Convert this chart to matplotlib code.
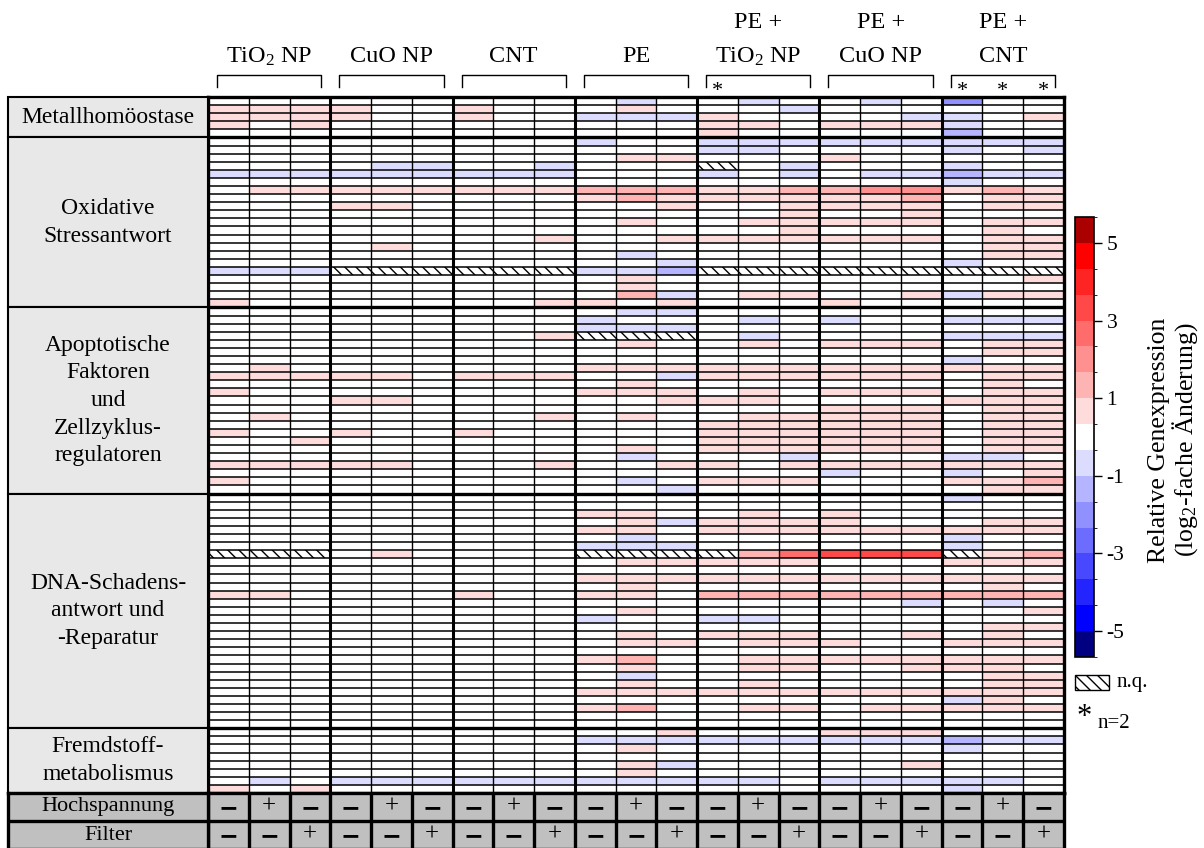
import numpy as np
import matplotlib
matplotlib.use('Agg')
import matplotlib.pyplot as plt
from matplotlib.colors import ListedColormap, BoundaryNorm
from matplotlib.patches import Rectangle
import matplotlib.cm as cm

plt.rcParams['font.family'] = ['Liberation Serif', 'DejaVu Serif']
plt.rcParams['mathtext.fontset'] = 'custom'
plt.rcParams['mathtext.rm'] = 'Liberation Serif'
plt.rcParams['mathtext.it'] = 'Liberation Serif:italic'
plt.rcParams['hatch.linewidth'] = 1.0

n = np.nan

# ---------------- data ----------------
group_top = ['', '', '', '', 'PE +', 'PE +', 'PE +']
group_bottom = ['TiO$_2$ NP', 'CuO NP', 'CNT', 'PE', 'TiO$_2$ NP', 'CuO NP', 'CNT']
n2_columns = [12, 18, 19, 20]          # columns marked with * (n=2)

section_names = ['Metallhomöostase',
                 'Oxidative\nStressantwort',
                 'Apoptotische\nFaktoren\nund\nZellzyklus-\nregulatoren',
                 'DNA-Schadens-\nantwort und\n-Reparatur',
                 'Fremdstoff-\nmetabolismus']

hochspannung = ['−', '+', '−'] * 7
filter_row = ['−', '−', '+'] * 7

metall = [
    [0,0,0, 0,0,0, 0,0,0, 0,-.7,0, 0,-.7,0, 0,-.7,0, -2.0,0,0],
    [.7,.7,.7, .7,0,0, .7,0,0, 0,.7,0, 0,0,-.7, 0,0,0, 0,0,0],
    [.7,.7,.7, .7,0,0, .7,0,0, -.7,-.7,-.7, .7,0,0, 0,0,-.7, -.7,0,.7],
    [.7,0,.7, 0,0,0, 0,0,0, 0,0,0, .7,.7,0, .7,.7,.7, -.7,0,0],
    [0,0,0, 0,0,0, 0,0,0, 0,0,0, .7,0,0, 0,0,0, -1.5,0,0],
]

oxid = [
    [0,0,0, 0,0,0, 0,0,0, -.7,0,0, -.7,-.7,-.7, -.7,-.7,-.7, -.7,-.7,-.7],
    [0,0,0, 0,0,0, 0,0,0, 0,0,0, -.7,-.7,0, 0,0,0, -.7,0,-.7],
    [0,0,0, 0,0,0, 0,0,0, 0,.7,.7, 0,0,0, .7,0,0, 0,0,0],
    [0,0,0, 0,-.7,-.7, 0,0,-.7, 0,0,0, n,0,-.7, 0,0,0, -.7,0,0],
    [-.7,-.7,-.7, -.7,-.7,-.7, -.7,-.7,-.7, 0,0,0, -.7,0,-.7, 0,-.7,-.7, -1.5,-.7,-.7],
    [0,0,0, 0,0,0, 0,0,0, 0,0,0, 0,0,0, 0,0,0, -.7,0,0],
    [0,.7,.7, .7,.7,.7, .7,.7,.7, 1.3,1.3,1.3, .7,.7,1.3, 1.3,2.0,2.0, .7,1.3,.7],
    [0,0,0, 0,0,0, 0,0,0, .7,1.3,.7, .7,.7,.7, .7,.7,1.3, 0,.7,.7],
    [0,0,0, .7,.7,0, 0,0,0, 0,0,.7, 0,0,.7, .7,.7,.7, 0,.7,.7],
    [0,0,0, 0,0,0, 0,0,0, 0,0,0, 0,0,.7, 0,0,.7, 0,0,0],
    [0,0,0, 0,0,0, 0,0,0, 0,.7,0, 0,.7,.7, .7,.7,.7, 0,.7,.7],
    [0,0,0, 0,0,0, 0,0,0, 0,0,0, 0,0,.7, 0,0,0, 0,.7,0],
    [0,0,0, 0,0,0, 0,0,.7, 0,0,.7, .7,.7,.7, .7,.7,.7, 0,.7,.7],
    [0,0,0, 0,.7,0, 0,0,0, 0,0,0, 0,0,0, 0,0,0, 0,.7,.7],
    [0,0,0, 0,0,0, 0,0,0, 0,-.7,0, 0,0,0, 0,0,0, 0,.7,.7],
    [0,0,0, 0,0,0, 0,0,0, 0,0,-.7, 0,0,0, 0,0,0, -.7,0,0],
    [-.7,-.7,-.7, n,n,n, n,n,n, -.7,-.7,-1.3, n,n,n, n,n,n, n,n,n],
    [0,0,0, 0,0,0, 0,0,0, 0,.7,0, 0,0,0, 0,0,0, 0,0,.7],
    [0,0,0, 0,0,0, 0,0,0, 0,.7,0, 0,0,0, 0,0,0, 0,0,0],
    [0,0,0, 0,0,0, 0,0,0, 0,1.3,-.7, 0,.7,.7, 0,0,.7, -.7,.7,.7],
    [.7,0,0, 0,0,0, 0,0,.7, .7,0,.7, 0,0,0, .7,0,0, 0,0,0],
]

apopt = [
    [0,0,0, 0,0,0, 0,0,0, 0,-.7,-.7, 0,0,0, 0,0,0, 0,0,0],
    [0,0,0, 0,0,0, 0,0,0, -.7,0,0, 0,-.7,0, -.7,0,0, -.7,-.7,-.7],
    [0,0,0, 0,0,0, 0,0,0, -.7,-.7,-.7, 0,0,0, 0,0,0, 0,0,0],
    [0,0,0, 0,0,0, 0,0,.7, n,n,n, 0,-.7,0, 0,0,0, -.7,-.7,-.7],
    [0,0,0, 0,0,0, 0,0,0, 0,.7,0, 0,.7,0, .7,.7,.7, 0,.7,.7],
    [0,0,0, 0,0,0, 0,0,0, 0,0,0, 0,0,0, 0,0,0, 0,.7,.7],
    [0,0,0, 0,0,0, 0,0,0, 0,0,0, 0,0,0, 0,0,0, -.7,0,0],
    [0,.7,0, 0,0,0, 0,0,0, .7,.7,.7, .7,.7,.7, .7,.7,.7, .7,.7,.7],
    [.7,.7,.7, .7,.7,0, .7,.7,.7, 0,0,-.7, .7,.7,.7, .7,.7,.7, 0,.7,.7],
    [0,0,0, 0,0,0, 0,0,0, 0,.7,0, 0,0,0, 0,0,0, 0,.7,0],
    [.7,0,0, 0,0,0, 0,0,0, .7,.7,.7, 0,.7,0, .7,.7,.7, 0,.7,.7],
    [0,0,0, .7,.7,0, 0,0,0, 0,0,.7, .7,.7,0, 0,0,0, .7,.7,.7],
    [0,0,0, 0,0,0, 0,0,0, 0,0,0, 0,0,0, .7,.7,.7, 0,.7,.7],
    [0,.7,0, 0,0,0, 0,0,.7, 0,.7,0, 0,.7,.7, .7,.7,.7, 0,.7,.7],
    [0,0,0, 0,0,0, 0,0,0, 0,0,0, .7,.7,.7, .7,.7,.7, 0,.7,.7],
    [.7,0,0, .7,0,0, .7,0,0, 0,0,0, .7,.7,.7, .7,.7,.7, 0,.7,.7],
    [0,0,.7, 0,0,0, 0,0,0, 0,0,0, .7,.7,.7, .7,.7,.7, 0,.7,.7],
    [0,0,0, 0,0,0, 0,0,0, 0,.7,0, .7,.7,.7, .7,.7,.7, 0,.7,.7],
    [0,0,0, 0,0,0, 0,0,0, 0,-.7,0, 0,0,-.7, 0,0,0, -.7,-.7,0],
    [.7,.7,.7, .7,.7,0, 0,0,.7, 0,0,.7, .7,0,.7, .7,.7,.7, .7,.7,.7],
    [0,0,0, 0,0,0, 0,0,0, 0,0,0, 0,0,0, -.7,0,0, -.7,0,.7],
    [.7,0,0, 0,0,0, 0,0,0, 0,-.7,0, .7,.7,.7, 0,0,0, .7,.7,1.3],
    [0,0,0, 0,0,0, 0,0,0, 0,0,-.7, 0,0,0, 0,0,0, 0,.7,.7],
]

dna = [
    [0,0,0, 0,0,0, 0,0,0, 0,0,0, 0,0,0, 0,0,0, -.7,0,0],
    [0,0,0, 0,0,0, 0,0,0, 0,0,0, 0,0,0, 0,0,0, 0,0,0],
    [0,0,0, 0,0,0, 0,0,0, .7,.7,0, 0,.7,0, .7,0,0, 0,0,0],
    [0,0,0, 0,0,0, 0,0,0, 0,.7,-.7, .7,.7,.7, .7,0,0, 0,.7,.7],
    [0,0,0, 0,0,0, 0,0,0, .7,.7,0, .7,.7,.7, .7,.7,.7, .7,.7,.7],
    [0,0,0, 0,0,0, 0,0,0, 0,-.7,0, 0,0,0, 0,0,0, -.7,0,0],
    [0,0,0, 0,0,0, 0,0,0, -.7,-.7,-.7, 0,0,0, 0,0,0, -.7,0,0],
    [n,n,n, 0,.7,0, 0,0,0, n,n,n, n,1.5,2.7, 3.3,3.3,3.3, n,.7,1.3],
    [0,0,0, 0,0,0, 0,0,0, 0,.7,.7, .7,.7,.7, 0,0,0, .7,.7,.7],
    [0,0,0, 0,0,0, 0,0,0, 0,0,0, 0,0,0, 0,0,0, 0,0,0],
    [0,0,0, 0,0,0, 0,0,0, .7,.7,.7, .7,.7,.7, .7,.7,.7, .7,.7,.7],
    [0,0,0, 0,0,0, 0,0,0, 0,.7,0, 0,0,0, 0,0,0, 0,.7,0],
    [.7,.7,0, 0,0,0, .7,0,0, .7,.7,0, 1.3,1.3,1.3, 1.3,1.3,1.3, 1.3,1.3,1.3],
    [0,0,0, 0,0,0, 0,0,0, 0,0,0, 0,0,0, 0,0,-.7, 0,-.7,0],
    [0,0,0, 0,0,0, 0,0,0, 0,.7,0, 0,0,0, 0,0,0, 0,0,.7],
    [0,0,0, 0,0,0, 0,0,0, -.7,0,0, -.7,-.7,0, 0,0,0, 0,0,0],
    [0,0,0, 0,0,0, 0,0,0, 0,0,0, 0,0,0, 0,0,0, 0,.7,.7],
    [0,0,0, 0,0,0, 0,0,0, 0,.7,0, .7,.7,.7, 0,0,.7, 0,.7,0],
    [0,0,0, 0,0,0, 0,0,0, 0,.7,.7, 0,.7,.7, .7,0,0, .7,.7,.7],
    [0,0,0, 0,0,0, 0,0,0, 0,0,0, 0,0,0, 0,0,0, 0,0,0],
    [0,0,0, 0,0,0, 0,0,0, .7,1.3,0, 0,.7,.7, .7,.7,.7, .7,.7,.7],
    [0,0,0, 0,0,0, 0,0,0, 0,.7,0, 0,.7,.7, 0,0,.7, .7,.7,0],
    [0,0,0, 0,0,0, 0,0,0, 0,-.7,0, 0,0,0, 0,0,0, 0,.7,.7],
    [0,0,0, 0,0,0, 0,0,0, 0,.7,0, 0,.7,0, 0,0,0, 0,.7,.7],
    [0,0,0, 0,0,0, 0,0,0, .7,.7,.7, .7,.7,.7, .7,.7,.7, .7,.7,.7],
    [0,0,0, 0,0,0, 0,0,0, 0,0,0, 0,0,0, 0,0,0, -.7,.7,0],
    [0,0,0, 0,0,0, 0,0,0, .7,1.3,0, 0,.7,.7, 0,.7,.7, .7,.7,.7],
    [0,0,0, 0,0,0, 0,0,0, 0,0,0, 0,0,0, 0,0,0, 0,0,0],
    [0,0,0, 0,0,0, 0,0,0, 0,0,0, 0,0,0, 0,0,0, 0,0,0],
]

fremd = [
    [0,0,0, 0,0,0, 0,0,0, 0,0,.7, 0,0,0, .7,.7,.7, 0,0,0],
    [0,0,0, 0,0,0, 0,0,0, -.7,-.7,-.7, -.7,-.7,-.7, -.7,-.7,-.7, -1.5,-.7,-.7],
    [0,0,0, 0,0,0, 0,0,0, 0,.7,0, 0,0,0, 0,0,0, -.7,0,0],
    [0,0,0, 0,0,0, 0,0,0, 0,0,0, 0,0,0, 0,0,0, 0,0,0],
    [0,0,0, 0,0,0, 0,0,0, 0,.7,-.7, 0,0,0, 0,0,.7, 0,0,0],
    [0,0,0, 0,0,0, 0,0,0, 0,.7,0, 0,0,0, 0,0,0, 0,0,0],
    [0,-.7,0, -.7,-.7,-.7, -.7,-.7,-.7, -.7,-.7,-.7, -.7,-.7,0, -.7,-.7,-.7, -.7,-.7,0],
    [.7,0,.7, 0,0,0, 0,0,0, 0,0,0, 0,0,0, 0,0,0, -.7,0,0],
]

cbar_ticks = [-5, -3, -1, 1, 3, 5]
cbar_ticklabels = ['-5', '-3', '-1', '1', '3', '5']
level_colors = ['#000080', '#0000ff', '#2424ff', '#4848ff', '#6c6cff', '#9090ff', '#b4b4ff', '#dcdcff',
                '#ffffff',
                '#ffdcdc', '#ffb4b4', '#ff9090', '#ff6c6c', '#ff4848', '#ff2424', '#ff0000', '#aa0000']

# ---------------- figure ----------------
W, H = 1204, 848
fig = plt.figure(figsize=(W / 100, H / 100), dpi=100)


def rect(x0, y0, x1, y1):
    return [x0 / W, 1 - y1 / H, (x1 - x0) / W, (y1 - y0) / H]


sections = [metall, oxid, apopt, dna, fremd]
sizes = [len(s) for s in sections]
data = np.array(metall + oxid + apopt + dna + fremd, dtype=float)
nrows, ncols = data.shape

boundaries = np.linspace(-17 / 3, 17 / 3, len(level_colors) + 1)
cmap = ListedColormap(level_colors)
norm = BoundaryNorm(boundaries, cmap.N)

FS = 16

# heatmap
ax = fig.add_axes(rect(208, 97, 1064, 793))
ax.pcolormesh(np.ma.masked_invalid(data), cmap=cmap, norm=norm)
ax.set_xlim(0, ncols)
ax.set_ylim(nrows, 0)
ax.set_xticks([])
ax.set_yticks([])
for r, c in zip(*np.where(np.isnan(data))):
    ax.add_patch(Rectangle((c, r), 1, 1, fill=False, hatch='\\\\\\', lw=0, edgecolor='k'))
for i in range(1, nrows):
    ax.axhline(i, color='k', lw=1.1)
for b in np.cumsum(sizes)[:-1]:
    ax.axhline(b, color='k', lw=2.4)
for j in range(1, ncols):
    ax.axvline(j, color='k', lw=2.2 if j % 3 == 0 else 1.0)
for s in ax.spines.values():
    s.set_linewidth(2.4)

# section labels
axl = fig.add_axes(rect(8, 97, 208, 793))
axl.set_xlim(0, 1)
axl.set_ylim(nrows, 0)
axl.axis('off')
start = 0
for name, size in zip(section_names, sizes):
    axl.add_patch(Rectangle((0, start), 1, size, facecolor='#e8e8e8', edgecolor='k', lw=1.5, clip_on=False))
    axl.text(0.5, start + size / 2, name, ha='center', va='center', fontsize=17, linespacing=1.42)
    start += size

# bottom condition rows
axb = fig.add_axes(rect(208, 793, 1064, 849))
axb.set_xlim(0, ncols)
axb.set_ylim(2, 0)
axb.set_facecolor('#c0c0c0')
axb.set_xticks([])
axb.set_yticks([])
for s in axb.spines.values():
    s.set_linewidth(2.4)
for j in range(1, ncols):
    axb.axvline(j, color='k', lw=2.4)
axb.axhline(1, color='k', lw=2.4)
for j in range(ncols):
    for k, row in enumerate([hochspannung, filter_row]):
        sym = row[j]
        if sym == '+':
            axb.text(j + 0.5, k + 0.5, sym, ha='center', va='center', fontsize=18)
        else:
            axb.text(j + 0.5, k + 0.54, sym, ha='center', va='center', fontsize=17,
                     family='DejaVu Sans', fontweight='bold')

axbl = fig.add_axes(rect(8, 793, 208, 849))
axbl.set_xlim(0, 1)
axbl.set_ylim(2, 0)
axbl.set_facecolor('#c0c0c0')
axbl.set_xticks([])
axbl.set_yticks([])
for s in axbl.spines.values():
    s.set_linewidth(2.4)
axbl.axhline(1, color='k', lw=2.4)
axbl.text(0.5, 0.5, 'Hochspannung', ha='center', va='center', fontsize=FS)
axbl.text(0.5, 1.5, 'Filter', ha='center', va='center', fontsize=FS)

# top group labels and brackets
axt = fig.add_axes(rect(208, 0, 1064, 97))
axt.set_xlim(0, ncols)
axt.set_ylim(97, 0)
axt.axis('off')
for g in range(len(group_bottom)):
    x0, x1 = 3 * g + 0.22, 3 * g + 3 - 0.22
    axt.plot([x0, x0, x1, x1], [87, 75, 75, 87], color='k', lw=1.0)
    axt.text(3 * g + 1.5, 57, group_bottom[g], ha='center', va='center', fontsize=17.5)
    axt.text(3 * g + 1.5, 22, group_top[g], ha='center', va='center', fontsize=17.5)
for c in n2_columns:
    axt.text(c + 0.5, 92, '*', ha='center', va='center', fontsize=FS)

# colorbar
cax = fig.add_axes(rect(1075, 217, 1094, 657))
cb = fig.colorbar(cm.ScalarMappable(norm=norm, cmap=cmap), cax=cax, ticks=cbar_ticks)
cb.ax.set_yticklabels(cbar_ticklabels, fontsize=FS - 0.5)
cb.ax.tick_params(length=6, width=1, pad=3)
cb.outline.set_linewidth(1.2)
fig.text(1174 / W, 1 - 440 / H, 'Relative Genexpression\n(log$_2$-fache Änderung)',
         rotation=90, ha='center', va='center', fontsize=18.5, multialignment='center',
         linespacing=1.05)

# legend
axg = fig.add_axes(rect(1064, 664, 1204, 760))
axg.set_xlim(1064, 1204)
axg.set_ylim(760, 664)
axg.axis('off')
axg.add_patch(Rectangle((1075, 675), 34, 15, fill=False, hatch='\\\\\\', lw=1, edgecolor='k'))
axg.text(1117, 683, 'n.q.', ha='left', va='center', fontsize=FS - 1)
axg.text(1084, 717, '*', ha='center', va='center', fontsize=FS + 6)
axg.text(1098, 724, 'n=2', ha='left', va='center', fontsize=FS - 1)

fig.savefig('out.png', dpi=100)
